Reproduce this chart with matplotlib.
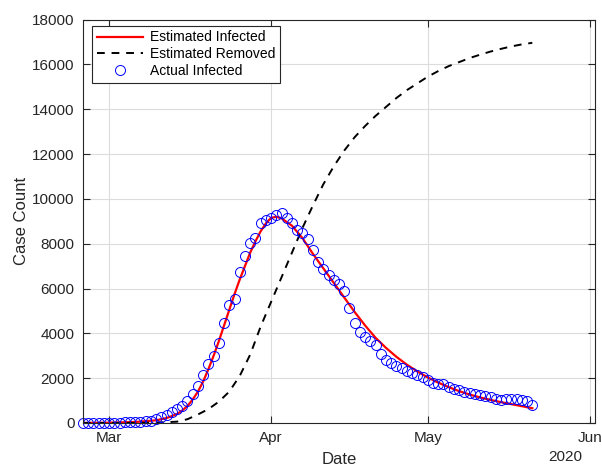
import numpy as np
import matplotlib
matplotlib.use("Agg")
import matplotlib.pyplot as plt
import matplotlib.dates as mdates

plt.rcParams['font.family'] = ['Liberation Sans', 'DejaVu Sans']

# Tagesdaten ab 25.02.2020 (Tag 0)
start = np.datetime64('2020-02-25')

# Aktuell Infizierte (ein Wert pro Tag)
actual_infected = [2, 2, 3, 5, 7, 10, 14, 18, 24, 35, 45, 60, 80, 110,
                   160, 250, 360, 500, 620, 780, 960, 1300, 1640, 2140, 2630,
                   3000, 3560, 4450, 5270, 5550, 6750, 7430, 8030, 8250, 8900,
                   9050, 9150, 9270, 9380, 9150, 8920, 8620, 8470, 8200, 7730,
                   7200, 6860, 6610, 6360, 6210, 5870, 5120, 4450, 4050, 3830,
                   3680, 3480, 3100, 2810, 2670, 2540, 2440, 2320, 2240, 2140,
                   2040, 1920, 1800, 1760, 1720, 1620, 1500, 1460, 1400, 1330,
                   1295, 1250, 1200, 1150, 1060, 1030, 1060, 1060, 1060, 1040,
                   980, 810]

# Modellkurven (Tag, Wert)
est_days = [0, 5, 10, 14, 16, 18, 19, 20, 21, 22, 23, 24, 25, 26, 27, 28, 29,
            30, 31, 32, 33, 34, 35, 36, 37, 38, 40, 42, 44, 46, 48, 50, 52,
            54, 56, 58, 60, 62, 64, 66, 68, 70, 72, 74, 76, 78, 80, 82, 84, 86]
est_infected = [5, 15, 45, 120, 220, 400, 560, 760, 1050, 1400, 1850, 2400,
                3000, 3650, 4350, 5050, 5750, 6400, 7000, 7600, 8100, 8550,
                8900, 9150, 9200, 9130, 8800, 8250, 7550, 6900, 6250, 5600,
                4950, 4350, 3800, 3350, 2950, 2600, 2300, 2030, 1800, 1600,
                1420, 1270, 1140, 1030, 930, 840, 750, 660]

rem_days = [0, 10, 14, 16, 18, 20, 22, 24, 26, 28, 30, 32, 34, 36, 38, 40, 42,
            44, 46, 48, 50, 52, 54, 56, 58, 60, 62, 64, 66, 68, 70, 72, 74,
            76, 78, 80, 82, 84, 86]
est_removed = [0, 5, 20, 35, 60, 170, 380, 620, 950, 1400, 2100, 3050, 4300,
               5400, 6500, 7600, 8700, 9700, 10650, 11450, 12150, 12750,
               13250, 13700, 14100, 14500, 14850, 15150, 15450, 15700, 15920,
               16100, 16280, 16430, 16570, 16690, 16800, 16890, 16960]

dates_act = (start + np.arange(len(actual_infected))).astype(object)
dates_inf = (start + np.array(est_days)).astype(object)
dates_rem = (start + np.array(rem_days)).astype(object)

fig = plt.figure(figsize=(6.02, 4.68), dpi=100)
ax = fig.add_axes([83/602, 45/468, 512/602, 403.5/468])

ax.plot(dates_inf, est_infected, color='red', lw=1.6,
        label='Estimated Infected')
ax.plot(dates_rem, est_removed, color='black', ls=(0, (4, 3.5)), lw=1.4,
        label='Estimated Removed')
ax.plot(dates_act, actual_infected, ls='none', marker='o', ms=7.2,
        mfc='none', mec='blue', mew=0.7, label='Actual Infected',
        clip_on=False)

ax.set_xlim(np.datetime64('2020-02-25').astype(object),
            np.datetime64('2020-06-02').astype(object))
ax.set_ylim(0, 18000)
ax.set_yticks(np.arange(0, 18001, 2000))
ax.xaxis.set_major_locator(mdates.MonthLocator())
ax.xaxis.set_major_formatter(mdates.DateFormatter('%b'))

dark = '#262626'
ax.grid(True, color='#dcdcdc', lw=0.8)
ax.set_axisbelow(True)
for s in ax.spines.values():
    s.set_color(dark)
    s.set_linewidth(0.8)
ax.tick_params(direction='in', top=True, right=True, length=5, width=0.8,
               colors=dark, labelsize=11, pad=6)

ax.set_xlabel('Date', fontsize=12, color=dark, labelpad=5)
ax.set_ylabel('Case Count', fontsize=12, color=dark, labelpad=2)
ax.text(0.941, -0.068, '2020', transform=ax.transAxes, fontsize=11,
        color=dark, ha='center', va='top')

leg = ax.legend(loc='upper left', bbox_to_anchor=(0.018, 0.985), fontsize=10,
                frameon=True, fancybox=False, edgecolor=dark, framealpha=1,
                borderpad=0.35, labelspacing=0.2, handlelength=3.3,
                handletextpad=0.5, borderaxespad=0)
leg.get_frame().set_linewidth(0.8)

fig.savefig('out.png', dpi=100)
